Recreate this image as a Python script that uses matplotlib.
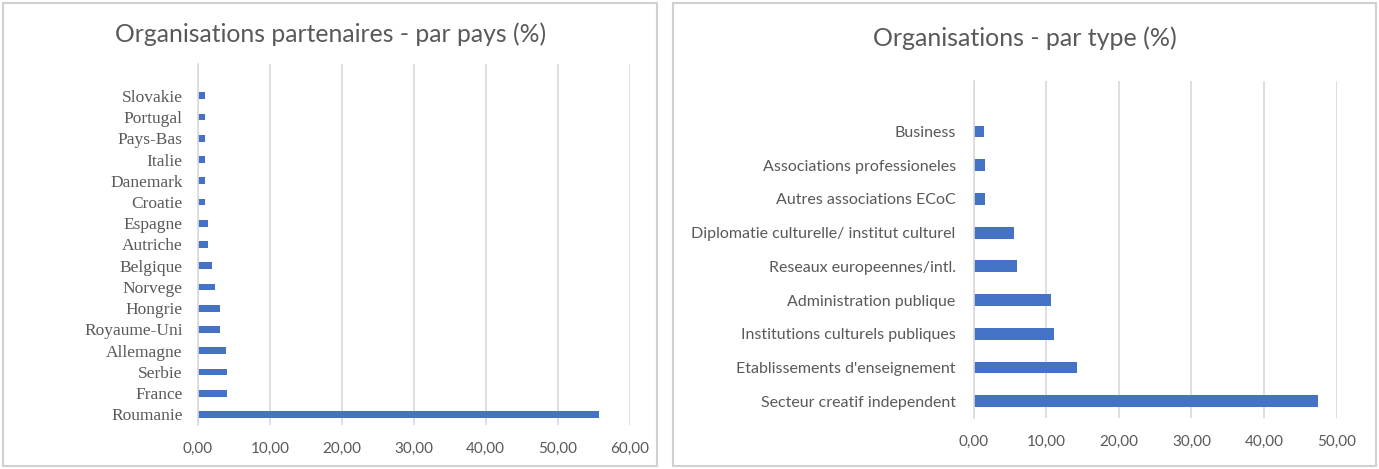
import matplotlib.pyplot as plt
from matplotlib.patches import Rectangle
from matplotlib.ticker import FuncFormatter

# par pays (bottom -> top)
pays = ["Roumanie", "France", "Serbie", "Allemagne", "Royaume-Uni", "Hongrie",
        "Norvege", "Belgique", "Autriche", "Espagne", "Croatie", "Danemark",
        "Italie", "Pays-Bas", "Portugal", "Slovakie"]
pays_pct = [55.7, 4.1, 4.1, 3.9, 3.0, 3.0, 2.3, 1.9, 1.45, 1.45,
            1.0, 1.0, 1.0, 1.0, 1.0, 1.0]

# par type (bottom -> top)
types = ["Secteur creatif independent", "Etablissements d'enseignement",
         "Institutions culturels publiques", "Administration publique",
         "Reseaux europeennes/intl.", "Diplomatie culturelle/ institut culturel",
         "Autres associations ECoC", "Associations professioneles", "Business"]
types_pct = [47.5, 14.2, 11.0, 10.6, 5.9, 5.6, 1.6, 1.6, 1.45]

blue = "#4472C4"
grey = "#595959"
gridc = "#D9D9D9"
fmt = FuncFormatter(lambda v, p: ("%.2f" % v).replace(".", ","))

fig = plt.figure(figsize=(13.79, 4.69), dpi=100)

# panel frames
for x0, x1 in [(3, 657), (673, 1376)]:
    fig.patches.append(Rectangle((x0 / 1379, 3 / 469), (x1 - x0) / 1379, 463 / 469,
                                 transform=fig.transFigure, fill=False,
                                 edgecolor="#D0D0D0", linewidth=1.5))


def style(ax, xmax, ymax, lblfont, lblsize, pad):
    ax.set_xlim(0, xmax)
    ax.set_ylim(-0.5, ymax)
    ax.xaxis.set_major_formatter(fmt)
    ax.grid(axis="x", color=gridc, linewidth=1.2)
    ax.set_axisbelow(True)
    for s in ["top", "right", "bottom"]:
        ax.spines[s].set_visible(False)
    ax.spines["left"].set_color(gridc)
    ax.spines["left"].set_linewidth(1.2)
    ax.tick_params(axis="both", length=0, colors=grey)
    ax.tick_params(axis="y", pad=pad)
    ax.tick_params(axis="x", pad=12)
    for t in ax.get_yticklabels():
        t.set_fontfamily(lblfont)
        t.set_fontsize(lblsize)
    for t in ax.get_xticklabels():
        t.set_fontfamily("Lato")
        t.set_fontsize(11)


ax1 = fig.add_axes([198 / 1379, 1 - 425 / 469, 431.5 / 1379, 361 / 469])
ax1.barh(pays, pays_pct, height=0.32, color=blue)
ax1.set_xticks([0, 10, 20, 30, 40, 50, 60])
style(ax1, 60, 16.5, "Liberation Serif", 12.5, 11)
fig.text(331 / 1379, 1 - 34 / 469, "Organisations partenaires - par pays (%)",
         ha="center", va="center", fontsize=17.8, color=grey, family="Lato")

ax2 = fig.add_axes([973.8 / 1379, 1 - 418 / 469, 362.7 / 1379, 337 / 469])
ax2.barh(types, types_pct, height=0.35, color=blue)
ax2.set_xticks([0, 10, 20, 30, 40, 50])
style(ax2, 50, 9.5, "Lato", 11.5, 13)
fig.text(1025 / 1379, 1 - 38 / 469, "Organisations - par type (%)",
         ha="center", va="center", fontsize=18, color=grey, family="Lato")

fig.savefig("out.png", dpi=100)
